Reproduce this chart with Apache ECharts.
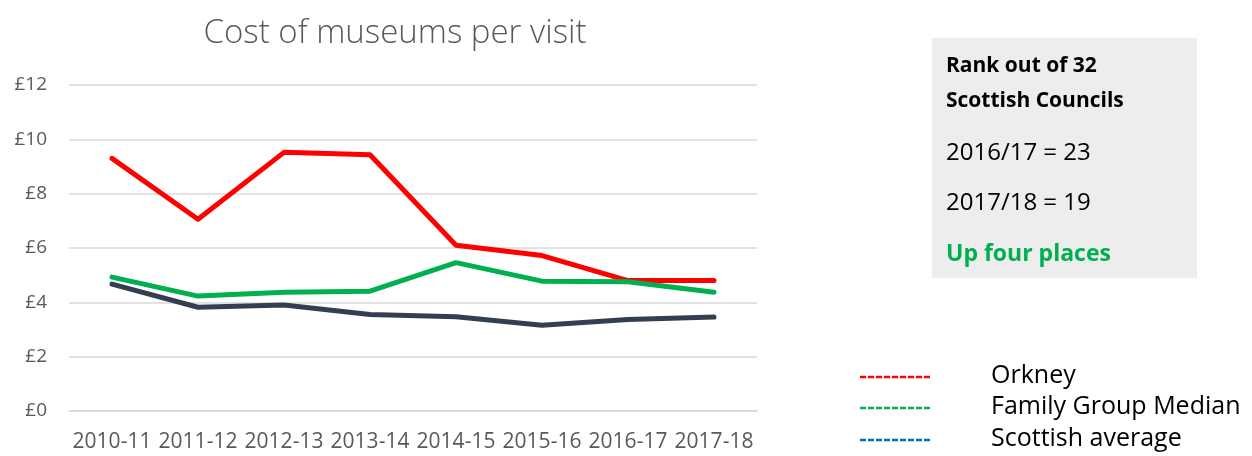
<!DOCTYPE html>
<html>
<head>
<meta charset="utf-8">
<script src="https://cdn.jsdelivr.net/npm/echarts@6/dist/echarts.min.js"></script>
<style>
  html, body { margin: 0; padding: 0; background: #fff; }
  #chart { width: 1252px; height: 456px; }
</style>
</head>
<body>
<div id="chart"></div>
<script>
// data
const years = ['2010-11', '2011-12', '2012-13', '2013-14', '2014-15', '2015-16', '2016-17', '2017-18']
const orkney = [9.3, 7.06, 9.52, 9.43, 6.1, 5.72, 4.8, 4.8]
const familyMedian = [4.93, 4.23, 4.37, 4.41, 5.46, 4.78, 4.76, 4.37]
const scottishAvg = [4.67, 3.82, 3.9, 3.55, 3.47, 3.16, 3.37, 3.46]
const rankLines = ['Rank out of 32', 'Scottish Councils', '2016/17 = 23', '2017/18 = 19', 'Up four places']
const legendNames = ['Orkney', 'Family Group Median', 'Scottish average']
const legendColors = ['#FF0000', '#00B050', '#0070C0']

const font = "'Open Sans', 'Liberation Sans', sans-serif"
let mychart = echarts.init(document.getElementById('chart'))

function seriesOf(name, data, color) {
  return {
    name: name,
    type: 'line',
    data: data,
    showSymbol: false,
    lineStyle: { width: 5, color: color, cap: 'round', join: 'round' },
    itemStyle: { color: color },
    z: 3
  }
}

// rank box + legend drawn as graphics
let graphics = [
  {
    type: 'rect',
    shape: { x: 932, y: 38, width: 265, height: 240 },
    style: { fill: '#EDEDED' }
  }
]
const rankY = [66, 101, 153, 203, 254]
const rankFont = ['bold 21px ', 'bold 21px ', '24px ', '24px ', 'bold 23px ']
rankLines.forEach((t, i) => {
  graphics.push({
    type: 'text',
    x: 946,
    y: rankY[i],
    style: {
      text: t,
      font: rankFont[i] + font,
      fill: i === 4 ? '#00B050' : '#000',
      verticalAlign: 'middle'
    }
  })
})
const legY = [377, 408, 440]
legendNames.forEach((n, i) => {
  graphics.push({
    type: 'line',
    shape: { x1: 860, y1: legY[i], x2: 930, y2: legY[i] },
    style: { stroke: legendColors[i], lineWidth: 2.5, lineDash: [6, 2] }
  })
  graphics.push({
    type: 'text',
    x: 991,
    y: legY[i] - 1,
    style: { text: n, font: '25px ' + font, fill: '#000', verticalAlign: 'middle' }
  })
})

let option = {
  animation: false,
  title: {
    text: 'Cost of museums per visit',
    left: 390,
    textAlign: 'center',
    top: 12,
    textStyle: { fontFamily: font, fontWeight: 300, fontSize: 33, color: '#595959' }
  },
  grid: { left: 69, right: 495, top: 85, bottom: 45 },
  xAxis: {
    type: 'category',
    data: years,
    boundaryGap: true,
    axisLine: { lineStyle: { color: '#D9D9D9', width: 1.5 } },
    axisTick: { show: false },
    axisLabel: { color: '#595959', fontSize: 21, fontFamily: font, margin: 21, interval: 0 }
  },
  yAxis: {
    type: 'value',
    min: 0,
    max: 12,
    interval: 2,
    axisLine: { show: false },
    axisTick: { show: false },
    splitLine: { lineStyle: { color: '#D9D9D9', width: 1.5 } },
    axisLabel: {
      color: '#595959',
      fontSize: 19,
      fontFamily: font,
      margin: 22,
      formatter: v => '£' + v
    }
  },
  series: [
    seriesOf('Orkney', orkney, '#FF0000'),
    seriesOf('Family Group Median', familyMedian, '#00B050'),
    seriesOf('Scottish average', scottishAvg, '#333F50')
  ],
  graphic: graphics
}
mychart.setOption(option)
</script>
</body>
</html>
